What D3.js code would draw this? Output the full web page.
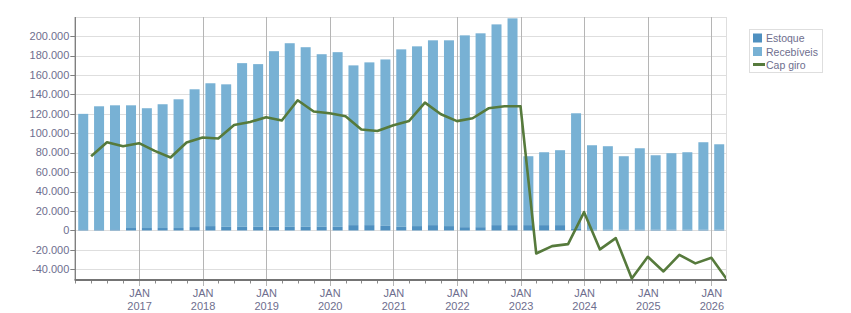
<!DOCTYPE html>
<html><head><meta charset="utf-8">
<script src="https://cdn.jsdelivr.net/npm/d3@7/dist/d3.min.js"></script>
<style>
body{margin:0;background:#fff;}
text{font-family:"Liberation Sans",Arial,sans-serif;}
</style></head>
<body><svg id="c" width="851" height="313"></svg>
<script>
const quarters = ["2016-01","2016-04","2016-07","2016-10","2017-01","2017-04","2017-07","2017-10",
"2018-01","2018-04","2018-07","2018-10","2019-01","2019-04","2019-07","2019-10",
"2020-01","2020-04","2020-07","2020-10","2021-01","2021-04","2021-07","2021-10",
"2022-01","2022-04","2022-07","2022-10","2023-01","2023-04","2023-07","2023-10",
"2024-01","2024-04","2024-07","2024-10","2025-01","2025-04","2025-07","2025-10","2026-01"];
const estoque = [1200,1200,1200,2500,2500,2500,2500,3500,4500,3700,3700,3700,3700,3700,3700,3700,3700,5500,5500,4700,
3700,4500,5500,4500,3400,3400,5500,5500,5500,5500,5500,1500,1000,1000,1000,1000,1000,1000,1000,1000,1000];
const recebiveis = [118800,126600,127600,126300,123300,127400,132500,141800,147000,146700,168500,167500,180800,189000,184900,177700,179800,164400,167500,171300,
182700,185000,190200,191200,197400,199500,206600,212800,70900,75000,77100,119100,86700,85700,75400,83600,76400,78500,79500,89800,87700];
const capGiro = [76400,90800,86700,89800,81900,75100,90500,95600,94600,108600,111700,116500,113100,134000,122400,120600,117500,103900,102400,108300,
112700,131600,119600,112500,115500,125700,127800,127800,-23700,-16100,-14100,18800,-19500,-7900,-49400,-27100,-42200,-25100,-33900,-28200,-50600];
const yTicks = [-40000,-20000,0,20000,40000,60000,80000,100000,120000,140000,160000,180000,200000];
const yearTicks = [2017,2018,2019,2020,2021,2022,2023,2024,2025,2026];
const seriesNames = ["Estoque","Recebíveis","Cap giro"];
const colors = {"Estoque":"#4f90c0","Recebíveis":"#78b1d4","Cap giro":"#567a3c"};

const L=75.3, R=726, T=17, B=280;
const svg = d3.select("#c");
const parse = d3.timeParse("%Y-%m");
const qStart = quarters.map(parse);
const qEnd = qStart.map(d=>d3.timeMonth.offset(d,3));
const x = d3.scaleTime().domain([new Date(2016,0,1), new Date(2026,2,26)]).range([L,R]);
const y = d3.scaleLinear().domain([-51000,219700]).range([B,T]);
const loc = d3.formatLocale({decimal:",",thousands:".",grouping:[3],currency:["",""],minus:"-"});
const fmt = loc.format(",d");

// horizontal grid
svg.append("g").selectAll("line").data(yTicks).join("line")
 .attr("x1",L).attr("x2",R).attr("y1",d=>Math.round(y(d))+0.5).attr("y2",d=>Math.round(y(d))+0.5)
 .attr("stroke","#dedede");
// top/right border
svg.append("line").attr("x1",L).attr("x2",R).attr("y1",T+0.5).attr("y2",T+0.5).attr("stroke","#dedede");
svg.append("line").attr("x1",R+0.5).attr("x2",R+0.5).attr("y1",T).attr("y2",B).attr("stroke","#dedede");

// quarter minor ticks
const minor = d3.timeMonth.every(3).range(new Date(2016,0,1), new Date(2026,2,26));
svg.append("g").selectAll("line").data(minor).join("line")
 .attr("x1",d=>Math.round(x(d))+0.5).attr("x2",d=>Math.round(x(d))+0.5)
 .attr("y1",B).attr("y2",B+3.5).attr("stroke","#8a8a8a");
// year grid lines
const yearDates = yearTicks.map(v=>new Date(v,0,1));
svg.append("g").selectAll("line").data(yearDates).join("line")
 .attr("x1",d=>Math.round(x(d))+0.5).attr("x2",d=>Math.round(x(d))+0.5)
 .attr("y1",T).attr("y2",B+6).attr("stroke","#b5b5b5");

// bars
const bw = 10;
const bars = svg.append("g");
quarters.forEach((q,i)=>{
  const cx = (x(qStart[i])+x(qEnd[i]))/2;
  bars.append("rect").attr("x",cx-bw/2).attr("width",bw)
   .attr("y",y(estoque[i])).attr("height",y(0)-y(estoque[i])).attr("fill",colors["Estoque"]);
  bars.append("rect").attr("x",cx-bw/2).attr("width",bw)
   .attr("y",y(estoque[i]+recebiveis[i])).attr("height",y(estoque[i])-y(estoque[i]+recebiveis[i])).attr("fill",colors["Recebíveis"]);
});

// axes lines
svg.append("line").attr("x1",L).attr("x2",L).attr("y1",T).attr("y2",B).attr("stroke","#808080").attr("stroke-width",1.4);
svg.append("g").selectAll("line").data(yTicks).join("line")
 .attr("x1",L-5).attr("x2",L).attr("y1",d=>Math.round(y(d))+0.5).attr("y2",d=>Math.round(y(d))+0.5).attr("stroke","#808080");
svg.append("line").attr("x1",L-0.7).attr("x2",R+1).attr("y1",B).attr("y2",B).attr("stroke","#747474").attr("stroke-width",2);

// line
svg.append("clipPath").attr("id","clip").append("rect").attr("x",L).attr("y",T).attr("width",R-L).attr("height",B-T);
const line = d3.line().x((d,i)=>x(qEnd[i])).y(d=>y(d));
svg.append("path").datum(capGiro).attr("d",line).attr("fill","none")
 .attr("stroke",colors["Cap giro"]).attr("stroke-width",2.6).attr("stroke-linejoin","round")
 .attr("clip-path","url(#clip)");

// y labels
svg.append("g").selectAll("text").data(yTicks).join("text")
 .attr("x",L-6).attr("y",d=>y(d)).attr("dy","0.34em").attr("text-anchor","end")
 .attr("font-size",11).attr("fill","#6e6e8e").text(d=>fmt(d));
// x labels
const xl = svg.append("g").selectAll("g").data(yearDates).join("g");
xl.append("text").attr("x",d=>x(d)+0.5).attr("y",297).attr("text-anchor","middle")
 .attr("font-size",11).attr("fill","#6e6e8e").text("JAN");
xl.append("text").attr("x",d=>x(d)+0.5).attr("y",310).attr("text-anchor","middle")
 .attr("font-size",11).attr("fill","#6e6e8e").text(d=>d.getFullYear());

// legend
const lg = svg.append("g");
lg.append("rect").attr("x",749.5).attr("y",29.5).attr("width",73).attr("height",43).attr("fill","#fff").attr("stroke","#dedede");
const rows=[38.5,52,65.5];
seriesNames.forEach((n,i)=>{
  if(n==="Cap giro"){
    lg.append("line").attr("x1",753).attr("x2",765).attr("y1",rows[i]-1).attr("y2",rows[i]-1).attr("stroke",colors[n]).attr("stroke-width",3);
  } else {
    lg.append("rect").attr("x",753).attr("y",rows[i]-5).attr("width",9).attr("height",9).attr("fill",colors[n]);
  }
  lg.append("text").attr("x",766).attr("y",rows[i]).attr("dy","0.34em").attr("font-size",10.5).attr("fill","#6e6e8e").text(n);
});
</script></body></html>
